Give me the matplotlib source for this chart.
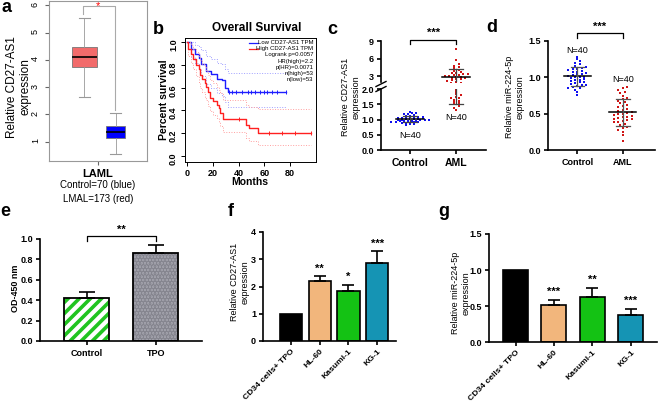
import numpy as np
import matplotlib.pyplot as plt

plt.rcParams['font.family'] = ['Liberation Sans', 'DejaVu Sans']
plt.rcParams['hatch.linewidth'] = 2.6

# ---- data ----
# a: GEPIA box plot (LAML tumor red, control blue)
a_red = dict(med=4.12, q1=3.75, q3=4.47, whislo=2.65, whishi=5.55, fliers=[])
a_blue = dict(med=1.35, q1=1.12, q3=1.57, whislo=0.55, whishi=2.05, fliers=[])

# b: Kaplan-Meier
low_t = [0, 3, 6, 9, 11, 15, 19, 23, 27, 29.5, 31.5, 77]
low_s = [1.0, 0.94, 0.90, 0.86, 0.81, 0.75, 0.72, 0.68, 0.67, 0.60, 0.56, 0.56]
low_hi = [1.0, 1.0, 0.98, 0.96, 0.93, 0.88, 0.85, 0.82, 0.81, 0.76, 0.73, 0.73]
low_lo = [1.0, 0.87, 0.82, 0.76, 0.70, 0.63, 0.60, 0.55, 0.53, 0.47, 0.43, 0.43]
low_cens = [33, 35, 38, 43, 47, 50, 53, 57, 60, 62, 66, 70, 77]
high_t = [0, 1, 3, 5, 7, 9, 10, 12, 14, 15, 16.5, 18, 20, 23, 24.5, 25.5, 28, 46, 48.5, 55.5, 96]
high_s = [1.0, 0.94, 0.90, 0.85, 0.80, 0.76, 0.71, 0.68, 0.64, 0.61, 0.56, 0.51, 0.48,
          0.45, 0.42, 0.38, 0.32, 0.27, 0.24, 0.20, 0.20]
high_hi = [1.0, 1.0, 0.98, 0.94, 0.91, 0.88, 0.84, 0.81, 0.78, 0.75, 0.71, 0.67, 0.64,
           0.61, 0.58, 0.55, 0.49, 0.45, 0.43, 0.41, 0.41]
high_lo = [1.0, 0.88, 0.82, 0.76, 0.70, 0.65, 0.60, 0.56, 0.52, 0.49, 0.44, 0.39, 0.36,
           0.33, 0.30, 0.26, 0.21, 0.16, 0.13, 0.09, 0.09]
high_cens = [40, 63.5, 73.5, 84, 96]
km_notes = ['Logrank p=0.0057', 'HR(high)=2.2', 'p(HR)=0.0071', 'n(high)=53', 'n(low)=53']

# c: CD27-AS1 in patients
c_control = [0.82, 0.85, 0.86, 0.88, 0.89, 0.90, 0.91, 0.92, 0.93, 0.93, 0.94, 0.95, 0.96,
             0.96, 0.97, 0.98, 0.98, 0.99, 1.00, 1.00, 1.01, 1.02, 1.02, 1.03, 1.04, 1.05,
             1.05, 1.06, 1.07, 1.08, 1.09, 1.10, 1.12, 1.13, 1.15, 1.17, 1.19, 1.21, 1.23, 1.26]
c_aml = [1.32, 1.40, 1.45, 1.50, 1.55, 1.58, 1.62, 1.65, 1.70, 1.72, 1.75, 1.80, 1.85, 1.90,
         1.97, 2.2, 2.3, 2.4, 2.5, 2.6, 2.7, 2.8, 2.9, 3.0, 3.0, 3.1, 3.2, 3.3, 3.4, 3.5,
         3.6, 3.7, 3.9, 4.1, 4.3, 4.5, 4.7, 5.0, 5.7, 7.7]

# d: miR-224-5p in patients
d_control = [0.76, 0.80, 0.83, 0.85, 0.86, 0.87, 0.88, 0.89, 0.90, 0.91, 0.92, 0.93, 0.94,
             0.95, 0.96, 0.97, 0.98, 0.99, 1.00, 1.00, 1.01, 1.02, 1.03, 1.04, 1.05, 1.06,
             1.07, 1.08, 1.09, 1.10, 1.11, 1.12, 1.13, 1.14, 1.16, 1.18, 1.20, 1.22, 1.25, 1.28]
d_aml = [0.13, 0.20, 0.25, 0.28, 0.30, 0.32, 0.34, 0.36, 0.38, 0.39, 0.40, 0.41, 0.42, 0.43,
         0.44, 0.45, 0.46, 0.47, 0.48, 0.49, 0.50, 0.51, 0.52, 0.53, 0.55, 0.57, 0.59, 0.60,
         0.62, 0.64, 0.66, 0.68, 0.70, 0.72, 0.75, 0.78, 0.80, 0.83, 0.85, 0.87]

# e: CCK-8
e_groups = ['Control', 'TPO']
e_vals = [0.42, 0.86]
e_err = [0.06, 0.085]

# f, g: cell lines
cells = ['CD34 cells+ TPO', 'HL-60', 'Kasumi-1', 'KG-1']
cell_colors = ['black', '#F2B67C', '#14C214', '#1594B4']
f_vals = [1.0, 2.22, 1.82, 2.85]
f_err = [0, 0.15, 0.24, 0.45]
f_stars = ['', '**', '*', '***']
g_vals = [1.0, 0.51, 0.63, 0.38]
g_err = [0, 0.07, 0.12, 0.08]
g_stars = ['', '***', '**', '***']

W, H = 658, 404
fig = plt.figure(figsize=(W / 100, H / 100), dpi=100)


def box(x0, y0, x1, y1):
    return [x0 / W, 1 - y1 / H, (x1 - x0) / W, (y1 - y0) / H]


def ftxt(x, y, s, **kw):
    fig.text(x / W, 1 - y / H, s, **kw)


def prism(ax):
    for s in ['top', 'right']:
        ax.spines[s].set_visible(False)
    for s in ['left', 'bottom']:
        ax.spines[s].set_linewidth(1.2)
    ax.tick_params(direction='out', length=3, width=1.2, labelsize=6.5, pad=2)
    for lab in ax.get_xticklabels() + ax.get_yticklabels():
        lab.set_fontweight('bold')


def swarm(vals, h, w):
    vals = np.asarray(vals)
    bins = np.round(vals / h).astype(int)
    off = np.zeros(len(vals))
    for b in np.unique(bins):
        idx = np.where(bins == b)[0]
        off[idx] = (np.arange(len(idx)) - (len(idx) - 1) / 2) * w
    return off


# panel letters
for ch, x, y in [('a', 7, 7), ('b', 158, 29), ('c', 332, 29), ('d', 492, 28),
                 ('e', 5, 211), ('f', 231, 211), ('g', 444, 211)]:
    ftxt(x, y, ch, fontsize=13, fontweight='bold', ha='center', va='center')

# ---- a ----
ax = fig.add_axes(box(49, 1, 147, 161))
bp = ax.bxp([a_red, a_blue], positions=[0.36, 0.68], widths=[0.26, 0.2],
            patch_artist=True, manage_ticks=False, showfliers=False,
            boxprops=dict(edgecolor='#777777', linewidth=0.6),
            whiskerprops=dict(color='#999999', linewidth=0.6),
            capprops=dict(color='#999999', linewidth=0.8),
            medianprops=dict(color='black', linewidth=1.2))
bp['boxes'][0].set_facecolor('#F26B6B')
bp['boxes'][1].set_facecolor('#0000FF')
for c in bp['caps']:
    m = c.get_xdata().mean()
    c.set_xdata([m - 0.055, m + 0.055])
ax.plot([0.35, 0.35, 0.675, 0.675], [5.7, 5.97, 5.97, 2.17], color='#AAAAAA', lw=0.8)
ax.text(0.5, 5.97, '*', color='red', fontsize=8, ha='center', va='center')
ax.set_xlim(0, 1)
ax.set_ylim(0.29, 6.16)
ax.set_xticks([0.5])
ax.set_xticklabels(['LAML'], fontsize=8, fontweight='bold')
ax.set_yticks([1, 2, 3, 4, 5, 6])
ax.tick_params(axis='y', labelsize=6.5, length=3, labelrotation=90, color='#666666')
ax.tick_params(axis='x', length=3, pad=3, color='#666666')
for s in ax.spines.values():
    s.set_color('#999999')
    s.set_linewidth(0.8)
ftxt(19, 87, 'Relative CD27-AS1\nexpression', fontsize=8.5, rotation=90,
     ha='center', va='center', multialignment='center')
ftxt(98, 185, 'Control=70 (blue)', fontsize=7, ha='center', va='center')
ftxt(98, 199, 'LMAL=173 (red)', fontsize=7, ha='center', va='center')

# ---- b ----
ax = fig.add_axes(box(185, 38.3, 316, 161.7))
for t, s, hi, lo, cens, col, lc in [(low_t, low_s, low_hi, low_lo, low_cens, '#1E1EFF', '#A0A0FF'),
                                    (high_t, high_s, high_hi, high_lo, high_cens, '#FF2020', '#FFA0A0')]:
    ax.step(t, hi, where='post', color=lc, lw=0.7, ls=':')
    ax.step(t, lo, where='post', color=lc, lw=0.7, ls=':')
    ax.step(t, s, where='post', color=col, lw=1.0)
    sv = np.array(s)[np.searchsorted(t, cens, side='right') - 1]
    ax.plot(cens, sv, '|', color=col, ms=3, mew=0.7)
ax.set_xlim(-1.5, 100.1)
ax.set_ylim(-0.053, 1.035)
ax.set_xticks([0, 20, 40, 60, 80])
ax.set_yticks([0, 0.2, 0.4, 0.6, 0.8, 1.0])
ax.set_yticklabels(['0.0', '0.2', '0.4', '0.6', '0.8', '1.0'])
ax.tick_params(labelsize=6.5, length=3, width=0.7, pad=2)
ax.tick_params(axis='y', labelrotation=90)
for lab in ax.get_xticklabels() + ax.get_yticklabels():
    lab.set_fontweight('bold')
for s in ax.spines.values():
    s.set_linewidth(0.7)
ftxt(257, 28, 'Overall Survival', fontsize=8.5, fontweight='bold', ha='center', va='center')
ftxt(250, 182, 'Months', fontsize=7.5, fontweight='bold', ha='center', va='center')
ftxt(164, 100, 'Percent survival', fontsize=7.5, fontweight='bold', rotation=90,
     ha='center', va='center')
ax.plot([0.49, 0.56], [0.965, 0.965], transform=ax.transAxes, color='#1E1EFF', lw=0.9)
ax.plot([0.49, 0.56], [0.91, 0.91], transform=ax.transAxes, color='#FF2020', lw=0.9)
ftxt(313.5, 42.5, 'Low CD27-AS1 TPM', fontsize=4.3, ha='right', va='center')
ftxt(313.5, 48.5, 'High CD27-AS1 TPM', fontsize=4.3, ha='right', va='center')
for i, s in enumerate(km_notes):
    ftxt(313.5, 54.8 + 6.2 * i, s, fontsize=4.3, ha='right', va='center')

# ---- c (broken axis) ----
axl = fig.add_axes(box(381, 89.3, 486, 150))
axu = fig.add_axes(box(381, 41.3, 486, 81.8))
lo_m = np.array(c_aml) < 2.1
aml_off = np.zeros(len(c_aml))
aml_off[lo_m] = swarm(np.array(c_aml)[lo_m], 0.08, 0.11)
aml_off[~lo_m] = swarm(np.array(c_aml)[~lo_m], 0.4, 0.1)
ctl_off = swarm(c_control, 0.06, 0.09)
for a in (axl, axu):
    a.scatter(ctl_off, c_control, s=4, marker='s', color='#1010F0', lw=0)
    a.scatter(1 + aml_off, c_aml, s=4, marker='s', color='#D01515', lw=0)
    for x0, v in [(0, c_control), (1, c_aml)]:
        m, sd = np.mean(v), np.std(v, ddof=1)
        a.plot([x0 - 0.3, x0 + 0.3], [m, m], color='black', lw=1.1)
        a.plot([x0, x0], [m - sd, m + sd], color='#444444', lw=0.9)
        a.plot([x0 - 0.15, x0 + 0.15], [m - sd] * 2, color='#444444', lw=0.9)
        a.plot([x0 - 0.15, x0 + 0.15], [m + sd] * 2, color='#444444', lw=0.9)
    a.set_xlim(-0.63, 1.646)
prism(axl)
axl.set_ylim(0, 2.0)
axl.set_yticks([0, 0.5, 1.0, 1.5, 2.0])
axl.set_yticklabels(['0.0', '0.5', '1.0', '1.5', '2.0'], fontweight='bold')
axl.set_xticks([0, 1])
axl.set_xticklabels(['Control', 'AML'], fontsize=7.5, fontweight='bold')
axl.tick_params(axis='x', pad=3)
prism(axu)
axu.spines['bottom'].set_visible(False)
axu.set_ylim(2.0, 9)
axu.set_yticks([3, 6, 9])
axu.set_yticklabels(['3', '6', '9'], fontweight='bold')
axu.set_xticks([])
axl.text(0, 0.49, 'N=40', fontsize=6.5, ha='center', va='center')
axl.text(1, 1.08, 'N=40', fontsize=6.5, ha='center', va='center')
axu.plot([0, 0, 1, 1], [8.6, 9.22, 9.22, 8.6], color='black', lw=0.9, clip_on=False)
axu.text(0.5, 10.5, '***', fontsize=8, fontweight='bold', ha='center', va='center')
for yy in (84, 89):
    fig.add_artist(plt.Line2D([376 / W, 386 / W], [1 - (yy + 2.5) / H, 1 - (yy - 2.5) / H],
                              color='black', lw=1.0))
ftxt(351, 97, 'Relative CD27-AS1\nexpression', fontsize=6.5, rotation=90,
     ha='center', va='center', multialignment='center')

# ---- d ----
ax = fig.add_axes(box(548.3, 41, 655, 150))
ax.scatter(swarm(d_control, 0.04, 0.1), d_control, s=4, marker='s', color='#1010F0', lw=0)
ax.scatter(1 + swarm(d_aml, 0.05, 0.1), d_aml, s=4, marker='s', color='#D01515', lw=0)
for x0, v in [(0, d_control), (1, d_aml)]:
    m, sd = np.mean(v), np.std(v, ddof=1)
    ax.plot([x0 - 0.3, x0 + 0.3], [m, m], color='black', lw=1.1)
    ax.plot([x0, x0], [m - sd, m + sd], color='#555555', lw=0.9)
    ax.plot([x0 - 0.15, x0 + 0.15], [m - sd] * 2, color='#555555', lw=0.9)
    ax.plot([x0 - 0.15, x0 + 0.15], [m + sd] * 2, color='#555555', lw=0.9)
ax.set_xlim(-0.64, 1.71)
ax.set_ylim(0, 1.5)
ax.set_yticks([0, 0.5, 1.0, 1.5])
ax.set_xticks([0, 1])
ax.set_xticklabels(['Control', 'AML'], fontsize=7.5)
prism(ax)
ax.tick_params(axis='x', pad=3)
ax.text(0, 1.367, 'N=40', fontsize=6.5, ha='center', va='center')
ax.text(1, 0.973, 'N=40', fontsize=6.5, ha='center', va='center')
ax.plot([0, 0, 1, 1], [1.546, 1.606, 1.606, 1.546], color='black', lw=0.9, clip_on=False)
ax.text(0.5, 1.70, '***', fontsize=8, fontweight='bold', ha='center', va='center')
ftxt(515, 97, 'Relative miR-224-5p\nexpression', fontsize=6.5, rotation=90,
     ha='center', va='center', multialignment='center')

# ---- e ----
ax = fig.add_axes(box(40, 239, 202, 341))
xe = np.arange(len(e_groups))
ax.bar(xe[0], e_vals[0], 0.65, color='white', edgecolor='#20C420', hatch='///', lw=0)
ax.bar(xe[1], e_vals[1], 0.65, color='#A3A3AD', edgecolor='#85858F', hatch='.....', lw=0)
ax.bar(xe, e_vals, 0.65, color='none', edgecolor='black', lw=1.3)
ax.errorbar(xe, e_vals, yerr=[[0, 0], e_err], fmt='none', ecolor='black', elinewidth=1.2,
            capsize=6, capthick=1.2)
ax.set_xlim(-0.68, 1.67)
ax.set_ylim(0, 1.0)
ax.set_yticks(np.arange(0, 1.01, 0.2))
ax.set_yticklabels(['0.0', '0.2', '0.4', '0.6', '0.8', '1.0'])
ax.set_xticks(xe)
ax.set_xticklabels(e_groups, fontsize=7.5)
prism(ax)
ax.tick_params(axis='x', pad=3)
ax.plot([0, 0, 1, 1], [0.98, 1.03, 1.03, 0.98], color='black', lw=0.9, clip_on=False)
ax.text(0.5, 1.09, '**', fontsize=8, fontweight='bold', ha='center', va='center')
ftxt(15, 288, 'OD-450 nm', fontsize=6.5, fontweight='bold', rotation=90, ha='center', va='center')

# ---- f, g ----
for rect, vals, err, stars, ylim, yt, ytl, lab, lx, ly, xl, bw, off in [
        (box(263, 232, 396, 341), f_vals, f_err, f_stars, 4, [0, 1, 2, 3, 4],
         ['0', '1', '2', '3', '4'], 'Relative CD27-AS1\nexpression', 240, 282, (-0.98, 3.66), 0.78, 0.28),
        (box(489, 234, 657, 342), g_vals, g_err, g_stars, 1.5, [0, 0.5, 1.0, 1.5],
         ['0.0', '0.5', '1.0', '1.5'], 'Relative miR-224-5p\nexpression', 461, 293, (-0.69, 3.68), 0.65, 0.11)]:
    ax = fig.add_axes(rect)
    xc = np.arange(len(cells))
    ax.bar(xc, vals, bw, color=cell_colors, edgecolor='black', lw=1.2)
    ax.errorbar(xc[1:], vals[1:], yerr=[[0] * 3, err[1:]], fmt='none', ecolor='black',
                elinewidth=1.2, capsize=4, capthick=1.2)
    for x0, v, e, st in zip(xc, vals, err, stars):
        if st:
            ax.text(x0, v + e + off, st, fontsize=8, fontweight='bold', ha='center', va='center')
    ax.set_xlim(*xl)
    ax.set_ylim(0, ylim)
    ax.set_yticks(yt)
    ax.set_yticklabels(ytl)
    ax.set_xticks(xc)
    ax.set_xticklabels(cells, rotation=45, ha='right', rotation_mode='anchor', fontsize=6.1)
    prism(ax)
    ax.tick_params(axis='x', labelsize=6.1)
    ftxt(lx, ly, lab, fontsize=6.5, rotation=90, ha='center', va='center', multialignment='center')

fig.savefig('out.png', dpi=100)
